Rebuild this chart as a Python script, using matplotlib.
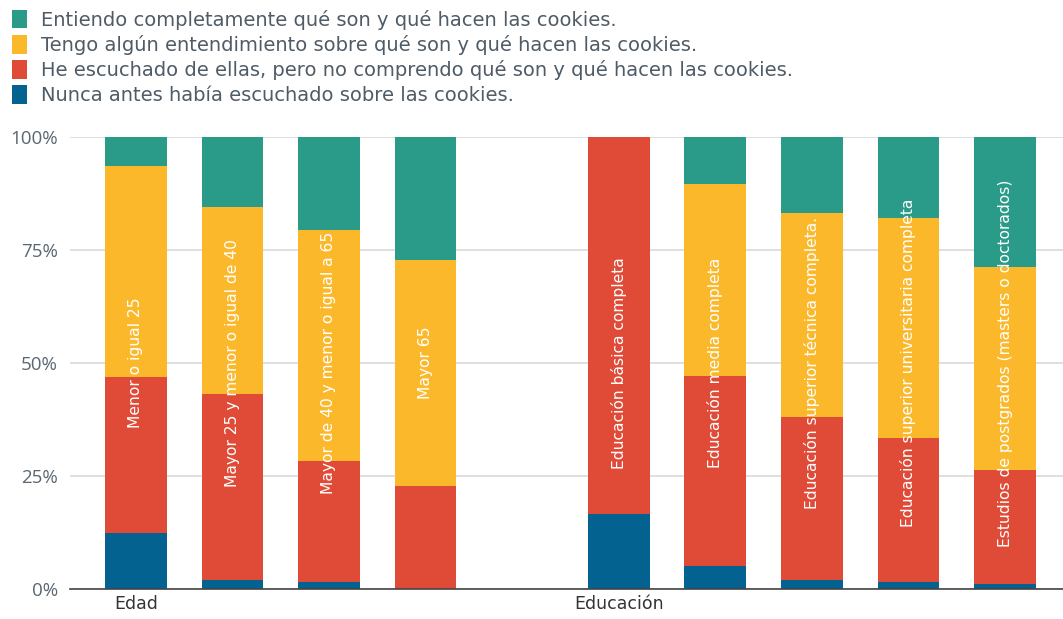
import matplotlib
matplotlib.use('Agg')
import matplotlib.pyplot as plt
from matplotlib.ticker import FuncFormatter

# Survey answers on cookies, split by age group and by education level (percent)
groups = ['Edad', 'Educación']
group_sizes = [4, 5]
categories = [
    'Menor o igual 25',
    'Mayor 25 y menor o igual de 40',
    'Mayor de 40 y menor o igual a 65',
    'Mayor 65',
    'Educación básica completa',
    'Educación media completa',
    'Educación superior técnica completa.',
    'Educación superior universitaria completa',
    'Estudios de postgrados (masters o doctorados)',
]
nunca = [12.3, 2.0, 1.5, 0.0, 16.5, 5.1, 2.0, 1.5, 1.2]
escuchado = [34.5, 41.2, 26.8, 22.8, 83.5, 42.0, 36.0, 32.0, 25.1]
algun = [46.8, 41.4, 51.1, 49.9, 0.0, 42.4, 45.1, 48.6, 45.0]
entiendo = [6.4, 15.4, 20.6, 27.3, 0.0, 10.5, 16.9, 17.9, 28.7]

series_labels = [
    'Nunca antes había escuchado sobre las cookies.',
    'He escuchado de ellas, pero no comprendo qué son y qué hacen las cookies.',
    'Tengo algún entendimiento sobre qué son y qué hacen las cookies.',
    'Entiendo completamente qué son y qué hacen las cookies.',
]
colors = ['#03628f', '#e04b38', '#fcb82b', '#2a9a89']

# x positions: one empty slot between the groups
positions = []
group_starts = []
start = 0
for size in group_sizes:
    group_starts.append(start)
    positions.extend(range(start, start + size))
    start += size + 1

fig = plt.figure(figsize=(10.63, 6.19), dpi=100)
ax = fig.add_axes([0.066, 0.0485, 0.934, 0.7302])

bottom = [0.0] * len(positions)
handles = []
for values, color, label in zip([nunca, escuchado, algun, entiendo], colors, series_labels):
    bars = ax.bar(positions, values, width=0.64, bottom=bottom, color=color,
                  label=label, zorder=2, linewidth=0)
    handles.append(bars)
    bottom = [b + v for b, v in zip(bottom, values)]

# category names written inside each bar
for x, name in zip(positions, categories):
    ax.text(x, 50, name, rotation=90, ha='center', va='center', color='white',
            fontsize=11.2, family='DejaVu Sans', zorder=3)

ax.set_ylim(0, 100)
ax.set_xlim(-0.68, 9.6)
ax.set_yticks([0, 25, 50, 75, 100])
ax.yaxis.set_major_formatter(FuncFormatter(lambda v, p: f'{int(v)}%'))
ax.set_xticks(group_starts)
ax.set_xticklabels(groups)
ax.tick_params(axis='y', length=0, pad=9, labelsize=13.5, labelcolor='#5a6670')
ax.tick_params(axis='x', length=0, pad=4, labelsize=12.5, labelcolor='#333333')
for lbl in ax.get_yticklabels():
    lbl.set_family('Open Sans')
for lbl in ax.get_xticklabels():
    lbl.set_family('DejaVu Sans')

ax.grid(axis='y', color='#d9d9d9', linewidth=1.2, zorder=0)
for side in ['top', 'right', 'left']:
    ax.spines[side].set_visible(False)
ax.spines['bottom'].set_color('#444444')
ax.spines['bottom'].set_linewidth(1.2)
ax.spines['bottom'].set_zorder(4)

leg = fig.legend(handles[::-1], series_labels[::-1], loc='upper left',
                 bbox_to_anchor=(0.004, 0.997), frameon=False,
                 prop={'family': 'DejaVu Sans', 'size': 14},
                 handlelength=0.78, handleheight=1.1, handletextpad=0.72,
                 labelspacing=0.27, borderaxespad=0.0)
for t in leg.get_texts():
    t.set_color('#4f5b66')

fig.savefig('out.png', dpi=100)
